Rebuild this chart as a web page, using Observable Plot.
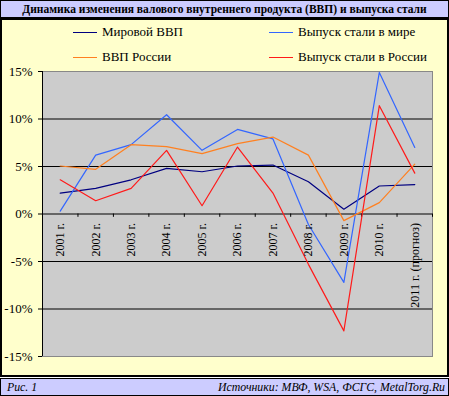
<!DOCTYPE html>
<html><head><meta charset="utf-8">
<script src="https://cdn.jsdelivr.net/npm/d3@7"></script>
<script src="https://cdn.jsdelivr.net/npm/@observablehq/plot@0.6"></script>
<style>
body{margin:0;background:#fff;}
#wrap{position:relative;width:449px;height:396px;font-family:"Liberation Serif","Times New Roman",serif;overflow:hidden;color:#000}
#title{position:absolute;left:0;top:0;width:447px;height:16px;background:#ccccff;border:1px solid #000;font-weight:bold;font-size:11.5px;text-align:center;line-height:16px}
#panel{position:absolute;left:0;top:18px;width:445px;height:355px;background:#ffffcc;border:2px solid #000;}
#foot{position:absolute;left:0;top:378px;width:447px;height:16px;background:#ccccff;border:1px solid #000;font-style:italic;font-size:11.8px;line-height:16px}
#foot .l{position:absolute;left:6px}
#foot .r{position:absolute;right:3px}
#chart{position:absolute;left:0;top:0}
.leg{position:absolute;font-size:13px;line-height:14px;white-space:nowrap}
.leg i{position:absolute;left:-29px;top:7px;width:24px;height:0;border-top:1.5px solid}
</style></head>
<body>
<div id="wrap">
  <div id="title"></div>
  <div id="panel"></div>
  <div id="foot"><span class="l">Рис. 1</span><span class="r">Источники: МВФ, WSA, ФСГС, MetalTorg.Ru</span></div>
  <div id="legend"></div>
  <div id="chart"></div>
</div>
<script>
const titleText = "Динамика изменения валового внутреннего продукта (ВВП) и выпуска стали";
const years = ["2001 г.","2002 г.","2003 г.","2004 г.","2005 г.","2006 г.","2007 г.","2008 г.","2009 г.","2010 г.","2011 г. (прогноз)"];
const seriesNames = ["Мировой ВВП","Выпуск стали в мире","ВВП России","Выпуск стали в России"];
const seriesColors = ["#000080","#3366ff","#ff8020","#ff1a1a"];
const worldGdp   = [2.2, 2.7, 3.6, 4.8, 4.45, 5.05, 5.15, 3.4, 0.5, 2.95, 3.1];
const worldSteel = [0.3, 6.2, 7.3, 10.45, 6.7, 8.9, 7.9, -1.1, -7.2, 14.9, 7.0];
const russiaGdp  = [5.05, 4.7, 7.3, 7.1, 6.35, 7.4, 8.1, 6.2, -0.7, 1.2, 5.25];
const russiaSteel= [3.6, 1.4, 2.7, 6.7, 0.87, 7.05, 2.2, -5.3, -12.3, 11.4, 4.3];
const yTicks = [-15,-10,-5,0,5,10,15];

document.getElementById("title").textContent = titleText;

// legend
const legPos = [[102,25],[298,25],[102,50],[298,50]];
const legend = document.getElementById("legend");
seriesNames.forEach((n,i)=>{
  const d = document.createElement("div");
  d.className="leg";
  d.style.left = legPos[i][0]+"px"; d.style.top = legPos[i][1]+"px";
  d.innerHTML = `<i style="border-color:${seriesColors[i]}"></i>${n}`;
  legend.appendChild(d);
});

const allSeries = [worldGdp, worldSteel, russiaGdp, russiaSteel];
const rows = [];
allSeries.forEach((arr,s)=>arr.forEach((v,i)=>rows.push({series:seriesNames[s], x:i+0.5, v})));
const labels = years.map((d,i)=>({label:d, x:i+0.5}));

const chart = Plot.plot({
  width:449, height:396,
  marginTop:71, marginBottom:40, marginLeft:42, marginRight:17,
  style:{background:"transparent", fontFamily:"'Liberation Serif','Times New Roman',serif", fontSize:"12px", color:"#000"},
  x:{type:"linear", domain:[0, years.length], axis:null},
  y:{domain:[-15,15], axis:null},
  color:{domain:seriesNames, range:seriesColors},
  marks:[
    Plot.frame({fill:"#cccccc", stroke:"#888888"}),
    Plot.ruleY(yTicks.filter(t=>Math.abs(t)!==15), {stroke:"#000", strokeWidth:1}),
    Plot.ruleX([0], {stroke:"#000", strokeWidth:1}),
    Plot.axisY({ticks:yTicks, tickFormat:d=>d+"%", tickSize:4, tickPadding:6, fontSize:13, stroke:"#000", strokeOpacity:1, label:null}),
    Plot.ruleX(d3.range(1, years.length+1), {y1:0, y2:-0.35, stroke:"#000"}),
    Plot.line(rows, {x:"x", y:"v", z:"series", stroke:"series", strokeWidth:1.2}),
    Plot.text(labels, {x:"x", y:0, text:"label", rotate:-90, textAnchor:"end", dy:9, fontSize:12, fill:"#000"})
  ]
});
document.getElementById("chart").appendChild(chart);
</script>
</body></html>
